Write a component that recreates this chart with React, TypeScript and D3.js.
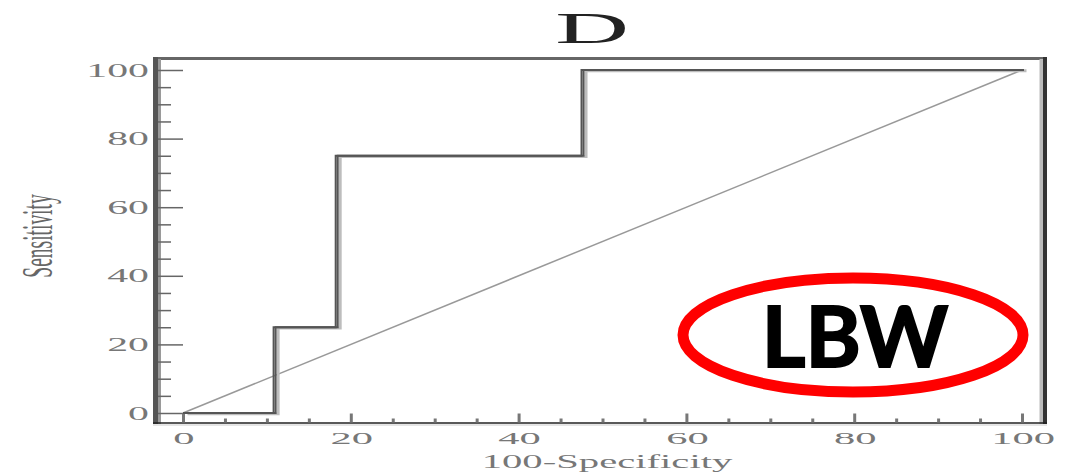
import React, { useEffect, useRef } from 'react';
import * as d3 from 'd3';

// ROC curve values (100-specificity, sensitivity)
const rocX = [0, 10.8, 18.2, 47.5, 100];
const rocY = [0, 25, 75, 100, 100];
const diagX = [0, 100];
const diagY = [0, 100];
const xTicks = [0, 20, 40, 60, 80, 100];
const yTicks = [0, 20, 40, 60, 80, 100];

const W = 1076;
const H = 472;
const frame = { left: 153, right: 1047, top: 57, bottom: 424 };
const serif = '"Liberation Serif", "DejaVu Serif", serif';

const App = () => {
  const svgRef = useRef<SVGSVGElement>(null);

  useEffect(() => {
    const svg = d3.select(svgRef.current);
    svg.selectAll('*').remove();

    const x = d3.scaleLinear().domain([0, 100]).range([183, 1022]);
    const y = d3.scaleLinear().domain([0, 100]).range([413, 70]);

    svg.append('rect').attr('width', W).attr('height', H).attr('fill', '#fff');

    // frame
    svg.append('line')
      .attr('x1', frame.left).attr('x2', frame.right - 2)
      .attr('y1', frame.top + 1.5).attr('y2', frame.top + 1.5)
      .attr('stroke', '#666').attr('stroke-width', 3);
    svg.append('rect')
      .attr('x', frame.left).attr('y', frame.top)
      .attr('width', 5).attr('height', frame.bottom - frame.top)
      .attr('fill', '#555');
    svg.append('rect')
      .attr('x', frame.left + 5).attr('y', frame.top + 2)
      .attr('width', 3).attr('height', frame.bottom - frame.top - 2)
      .attr('fill', '#9a9a9a');
    svg.append('rect')
      .attr('x', frame.right - 7.5).attr('y', frame.top + 2)
      .attr('width', 3.5).attr('height', frame.bottom - frame.top - 2)
      .attr('fill', '#bbb');
    svg.append('rect')
      .attr('x', frame.right - 4).attr('y', frame.top)
      .attr('width', 4).attr('height', frame.bottom - frame.top)
      .attr('fill', '#333');
    svg.append('line')
      .attr('x1', frame.left).attr('x2', frame.right)
      .attr('y1', frame.bottom - 1).attr('y2', frame.bottom - 1)
      .attr('stroke', '#222').attr('stroke-width', 1.5);
    svg.append('line')
      .attr('x1', frame.left).attr('x2', frame.right)
      .attr('y1', frame.bottom + 1).attr('y2', frame.bottom + 1)
      .attr('stroke', '#ddd').attr('stroke-width', 1.5);

    // y ticks (inward)
    const yMinor = d3.range(0, 101, 5).filter(v => v % 20 !== 0);
    const yAxisG = svg.append('g').attr('transform', `translate(${frame.left + 5},0)`);
    yAxisG.call(d3.axisLeft(y).tickValues(yTicks).tickSize(-25).tickFormat(() => ''));
    yAxisG.call(g => g.select('.domain').remove());
    const yMinorG = svg.append('g').attr('transform', `translate(${frame.left + 5},0)`);
    yMinorG.call(d3.axisLeft(y).tickValues(yMinor).tickSize(-13).tickFormat(() => ''));
    yMinorG.call(g => g.select('.domain').remove());
    svg.selectAll('.tick line').attr('stroke', '#666').attr('stroke-width', 1.5);

    // x ticks (inward)
    const xMinor = d3.range(0, 101, 5).filter(v => v % 20 !== 0);
    const xAxisG = svg.append('g').attr('class', 'xa').attr('transform', `translate(0,${frame.bottom - 1.5})`);
    xAxisG.call(d3.axisBottom(x).tickValues(xTicks).tickSize(-9).tickFormat(() => ''));
    xAxisG.call(g => g.select('.domain').remove());
    const xMinorG = svg.append('g').attr('class', 'xa').attr('transform', `translate(0,${frame.bottom - 1.5})`);
    xMinorG.call(d3.axisBottom(x).tickValues(xMinor).tickSize(-4).tickFormat(() => ''));
    xMinorG.call(g => g.select('.domain').remove());
    svg.selectAll('.xa .tick line').attr('stroke', '#777').attr('stroke-width', 3);

    // tick labels (horizontally stretched like the source image)
    svg.append('g').selectAll('text').data(yTicks).join('text')
      .attr('transform', d => `translate(149,${y(d) + 6.5}) scale(2.2,1)`)
      .attr('text-anchor', 'end')
      .attr('font-family', serif).attr('font-size', 19)
      .attr('fill', '#777')
      .text(d => d);
    svg.append('g').selectAll('text').data(xTicks).join('text')
      .attr('transform', d => `translate(${x(d) + 1},444) scale(2.5,1)`)
      .attr('text-anchor', 'middle')
      .attr('font-family', serif).attr('font-size', 17)
      .attr('fill', '#777')
      .text(d => d);

    // diagonal reference line
    const line = d3.line<number>().x((d, i) => x(diagX[i])).y((d, i) => y(diagY[i]));
    svg.append('path')
      .attr('d', line(diagX))
      .attr('fill', 'none').attr('stroke', '#999').attr('stroke-width', 1.5);

    // ROC step curve
    const step = d3.line<number>()
      .x((d, i) => x(rocX[i])).y((d, i) => y(rocY[i]))
      .curve(d3.curveStepAfter);
    const stepD = step(rocX);
    svg.append('path').attr('d', stepD)
      .attr('transform', 'translate(4.5,0.8)')
      .attr('fill', 'none').attr('stroke', '#bdbdbd').attr('stroke-width', 3);
    svg.append('path').attr('d', stepD)
      .attr('fill', 'none').attr('stroke', '#555').attr('stroke-width', 2);
    svg.append('path').attr('d', stepD)
      .attr('transform', 'translate(2,0)')
      .attr('fill', 'none').attr('stroke', '#555').attr('stroke-width', 2);

    // title
    svg.append('text')
      .attr('transform', 'translate(592,43) scale(2.27,1)')
      .attr('text-anchor', 'middle')
      .attr('font-family', serif).attr('font-size', 45)
      .attr('fill', '#222')
      .text('D');

    // axis titles
    svg.append('text')
      .attr('transform', 'translate(607,468) scale(2.26,1)')
      .attr('text-anchor', 'middle')
      .attr('font-family', serif).attr('font-size', 18)
      .attr('fill', '#777')
      .text('100-Specificity');
    svg.append('text')
      .attr('transform', 'translate(52,236) scale(2.25,1) rotate(-90)')
      .attr('text-anchor', 'middle')
      .attr('font-family', serif).attr('font-size', 19.5)
      .attr('fill', '#666')
      .text('Sensitivity');

    // LBW annotation
    svg.append('ellipse')
      .attr('cx', 853).attr('cy', 335).attr('rx', 170).attr('ry', 57)
      .attr('fill', 'none').attr('stroke', '#ff0000').attr('stroke-width', 11);
    svg.append('text')
      .attr('x', 855).attr('y', 367)
      .attr('text-anchor', 'middle')
      .attr('font-family', 'Lato, "Open Sans", sans-serif')
      .attr('font-weight', 'bold').attr('font-size', 84)
      .attr('fill', '#000').attr('stroke', '#000').attr('stroke-width', 2)
      .text('LBW');
  }, []);

  return (
    <svg ref={svgRef} width={W} height={H}
      style={{ position: 'absolute', left: 0, top: 0, display: 'block' }} />
  );
};

export default App;
